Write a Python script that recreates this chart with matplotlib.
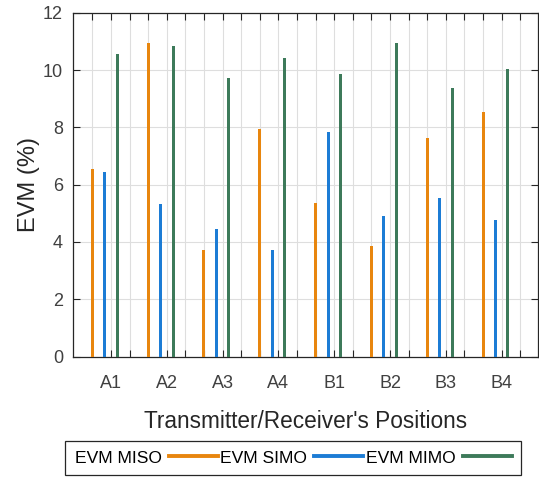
import matplotlib.pyplot as plt
import numpy as np

plt.rcParams["font.family"] = ["Liberation Sans", "DejaVu Sans"]

positions = ["A1", "A2", "A3", "A4", "B1", "B2", "B3", "B4"]
evm_miso = [6.55, 10.95, 3.72, 7.93, 5.36, 3.85, 7.64, 8.53]
evm_simo = [6.43, 5.34, 4.44, 3.72, 7.85, 4.91, 5.55, 4.76]
evm_mimo = [10.56, 10.85, 9.71, 10.41, 9.86, 10.93, 9.37, 10.05]
y_ticks = [0, 2, 4, 6, 8, 10, 12]

C_MISO = "#E8860E"
C_SIMO = "#1C7CD5"
C_MIMO = "#3D7A5A"
TXT = "#404040"


def main():
    fig = plt.figure(figsize=(5.39, 4.8), dpi=100)
    ax = fig.add_axes([0.135, 0.257, 0.863, 0.7165])

    # each position takes 3 grid steps; bars sit at 0, 2/3 and 4/3 of the first two
    base = np.arange(len(positions)) * 3
    step = 0.67
    width = 0.16
    ax.bar(base, evm_miso, width, color=C_MISO, zorder=3)
    ax.bar(base + step, evm_simo, width, color=C_SIMO, zorder=3)
    ax.bar(base + 2 * step, evm_mimo, width, color=C_MIMO, zorder=3)

    ax.set_xlim(-1.05, 23.95)
    ax.set_ylim(0, 12)
    grid_x = np.arange(0, 24)
    ax.set_xticks(grid_x)
    ax.set_xticklabels([positions[k // 3] if k % 3 == 1 else "" for k in grid_x])
    ax.set_yticks(y_ticks)

    ax.grid(True, color="#dedede", linewidth=0.8, zorder=0)
    ax.tick_params(axis="both", direction="in", length=5, width=0.8,
                   top=True, right=True, colors="#262626",
                   labelcolor=TXT, labelsize=13)
    ax.tick_params(axis="x", pad=13)
    ax.tick_params(axis="y", pad=7)
    for side in ax.spines.values():
        side.set_color("#262626")
        side.set_linewidth(0.9)

    ax.set_ylabel("EVM (%)", fontsize=17, color="#262626", labelpad=2)
    ax.set_xlabel("Transmitter/Receiver's Positions", fontsize=16.3,
                  color="#262626", labelpad=13)

    handles = [plt.Line2D([], [], color=c, linewidth=2.8)
               for c in (C_MISO, C_SIMO, C_MIMO)]
    leg = fig.legend(handles, ["EVM MISO", "EVM SIMO", "EVM MIMO"],
                     loc="center", bbox_to_anchor=(0.544, 0.046), ncol=3,
                     markerfirst=False, fontsize=12.6, handlelength=2.8,
                     handletextpad=0.4, columnspacing=0.15, borderpad=0.55,
                     borderaxespad=0, fancybox=False, framealpha=1,
                     edgecolor="#262626")
    leg.get_frame().set_linewidth(0.9)

    fig.savefig("out.png", dpi=100)


if __name__ == "__main__":
    main()
